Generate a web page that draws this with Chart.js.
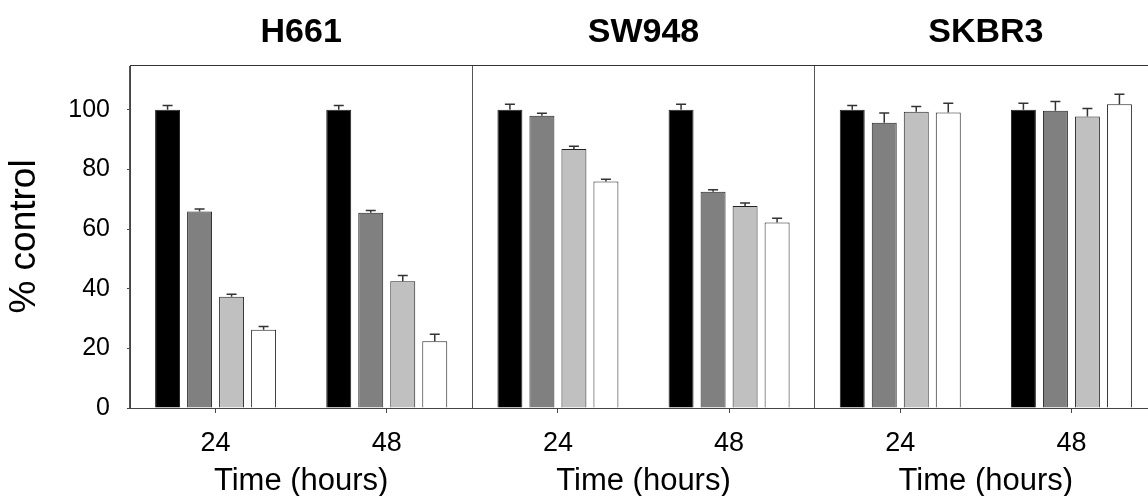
<!DOCTYPE html>
<html>
<head>
<meta charset="utf-8">
<script src="https://cdn.jsdelivr.net/npm/chart.js@4"></script>
<style>
  html, body { margin: 0; padding: 0; background: #fff; overflow: hidden; }
  #wrap { width: 1160px; height: 496px; }
</style>
</head>
<body>
<div id="wrap"><canvas id="chart"></canvas></div>
<script>
// data
const cellLines = ['H661', 'SW948', 'SKBR3'];
const timeLabels = ['24', '48', '24', '48', '24', '48'];
const axisTitle = 'Time (hours)';

const series1 = [100, 100, 100, 100, 100, 100];
const series1Err = [1.4, 1.4, 1.8, 1.8, 1.4, 2.2];
const series2 = [65.9, 65.5, 98.0, 72.5, 95.6, 99.7];
const series2Err = [0.8, 0.7, 0.8, 0.7, 3.3, 3.1];
const series3 = [37.3, 42.5, 86.8, 67.7, 99.3, 97.7];
const series3Err = [0.8, 1.9, 1.0, 1.0, 1.8, 2.7];
const series4 = [26.2, 22.4, 75.9, 62.2, 99.1, 101.8];
const series4Err = [1.1, 2.3, 0.8, 1.4, 3.1, 3.4];

const fontFamily = "'Liberation Sans', Arial, sans-serif";
const lineColor = '#444';

// upward-only error bars
const errorBars = {
    id: 'errorBars',
    afterDatasetsDraw(chart) {
        const ctx = chart.ctx;
        const yScale = chart.scales.y;
        ctx.save();
        ctx.strokeStyle = '#333';
        ctx.lineWidth = 1.5;
        chart.data.datasets.forEach((ds, i) => {
            const meta = chart.getDatasetMeta(i);
            meta.data.forEach((bar, j) => {
                const top = yScale.getPixelForValue(ds.data[j] + ds.errors[j]);
                ctx.beginPath();
                ctx.moveTo(bar.x, bar.y);
                ctx.lineTo(bar.x, top);
                ctx.moveTo(bar.x - 5, top);
                ctx.lineTo(bar.x + 5, top);
                ctx.stroke();
            });
        });
        ctx.restore();
    }
};

function makeSet(label, data, errors, color) {
    return {
        label, data, errors,
        backgroundColor: color,
        borderColor: '#222',
        borderWidth: 1,
        categoryPercentage: 0.748,
        barPercentage: 0.78,
        xAxisID: 'x'
    };
}

new Chart(document.getElementById('chart'), {
    type: 'bar',
    data: {
        labels: timeLabels,
        datasets: [
            makeSet('Series 1', series1, series1Err, '#000000'),
            makeSet('Series 2', series2, series2Err, '#808080'),
            makeSet('Series 3', series3, series3Err, '#c0c0c0'),
            makeSet('Series 4', series4, series4Err, '#ffffff')
        ]
    },
    options: {
        responsive: true,
        maintainAspectRatio: false,
        animation: false,
        layout: { padding: { left: 0, right: 3, top: 0, bottom: 0 } },
        plugins: { legend: { display: false }, tooltip: { enabled: false } },
        scales: {
            y: {
                min: 0,
                max: 115,
                ticks: { stepSize: 20, padding: 17, color: '#000', font: { family: fontFamily, size: 25 } },
                afterBuildTicks: s => { s.ticks = s.ticks.filter(t => t.value % 20 === 0); },
                afterFit: s => { s.width = 130; },
                grid: { drawOnChartArea: false, tickLength: 3, color: lineColor },
                border: { color: lineColor },
                title: {
                    display: true, text: '% control', color: '#000',
                    padding: { top: 3, bottom: 0 },
                    font: { family: fontFamily, size: 37 }
                }
            },
            x: {
                position: 'bottom',
                weight: 0,
                ticks: { padding: 14, color: '#000', font: { family: fontFamily, size: 27 } },
                afterFit: s => { s.height = 47; },
                grid: { offset: false, drawOnChartArea: false, tickLength: 5, color: lineColor },
                border: { color: lineColor }
            },
            panel: {
                type: 'category',
                labels: cellLines.map(() => axisTitle),
                position: 'bottom',
                weight: 1,
                offset: true,
                ticks: { padding: 0, color: '#000', font: { family: fontFamily, size: 31 } },
                afterFit: s => { s.height = 41; },
                grid: { display: false },
                border: { display: false }
            },
            top: {
                type: 'category',
                labels: cellLines,
                position: 'top',
                offset: true,
                ticks: { padding: 12, color: '#000', font: { family: fontFamily, size: 34, weight: 'bold' } },
                afterFit: s => { s.height = 65; },
                grid: { offset: true, drawTicks: false, color: '#555', lineWidth: 1 },
                border: { color: '#333' }
            }
        }
    },
    plugins: [errorBars]
});
</script>
</body>
</html>
